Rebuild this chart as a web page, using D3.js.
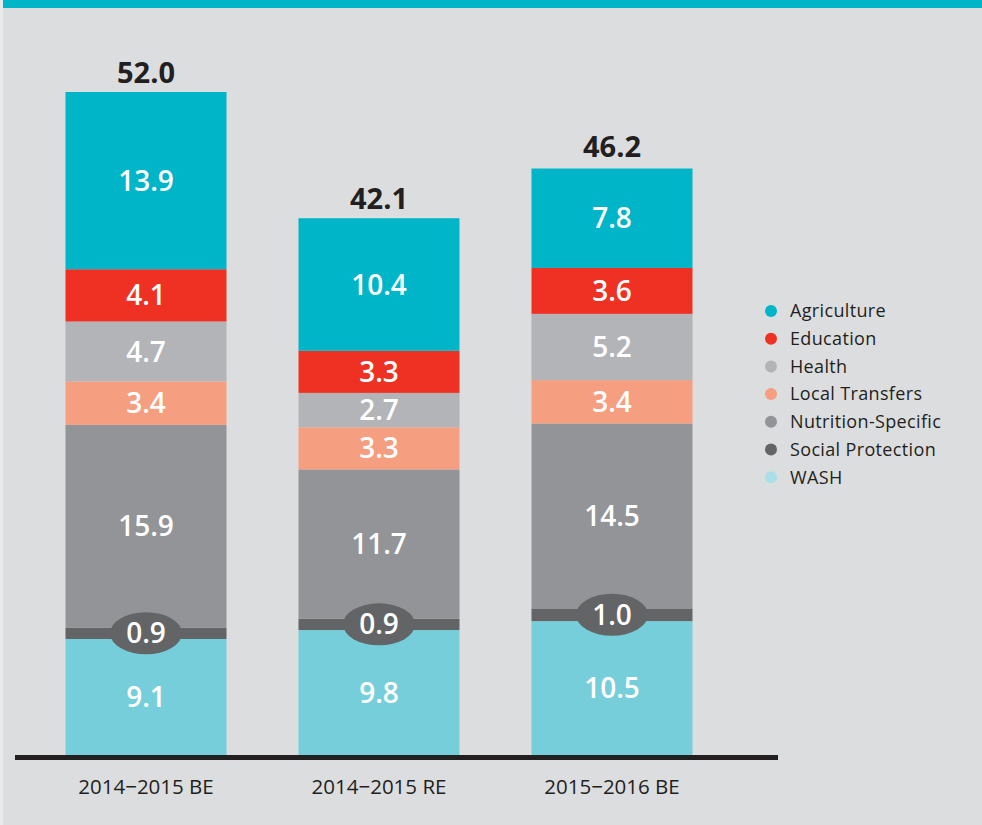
<!DOCTYPE html>
<html><head><meta charset="utf-8">
<script src="https://cdn.jsdelivr.net/npm/d3@7"></script>
<style>body{margin:0;background:#dcdddf;}svg{display:block;}</style>
</head><body>
<svg id="c" width="982" height="825"></svg>
<script>
const categories = ["2014\u22122015 BE", "2014\u22122015 RE", "2015\u22122016 BE"];
const seriesNames = ["WASH", "Social Protection", "Nutrition-Specific", "Local Transfers", "Health", "Education", "Agriculture"];
const wash = [9.1, 9.8, 10.5];
const socialProtection = [0.9, 0.9, 1.0];
const nutrition = [15.9, 11.7, 14.5];
const localTransfers = [3.4, 3.3, 3.4];
const health = [4.7, 2.7, 5.2];
const education = [4.1, 3.3, 3.6];
const agriculture = [13.9, 10.4, 7.8];
const totals = [52.0, 42.1, 46.2];
const colors = ["#76cedb", "#636466", "#939497", "#f59e80", "#b3b4b7", "#ef3124", "#00b5c8"];
const legendColors = {"WASH":"#a8dfe8"};
const legendOrder = ["Agriculture","Education","Health","Local Transfers","Nutrition-Specific","Social Protection","WASH"];

const values = [wash, socialProtection, nutrition, localTransfers, health, education, agriculture];
const rows = categories.map((c,i)=>{const o={cat:c}; seriesNames.forEach((s,j)=>o[s]=values[j][i]); return o;});
const stack = d3.stack().keys(seriesNames)(rows);

const svg = d3.select("#c");
const font = "'Open Sans', Lato, sans-serif";
svg.append("rect").attr("width",982).attr("height",825).attr("fill","#dcdddf");
svg.append("rect").attr("x",0).attr("y",0).attr("width",982).attr("height",8).attr("fill","#00b5c8");
svg.append("rect").attr("x",0).attr("y",0).attr("width",3).attr("height",825).attr("fill","#e9eaeb");

const x = d3.scaleBand().domain(categories).range([18.9, 739.1]).paddingInner(0.309).paddingOuter(0.2);
const y = d3.scaleLinear().domain([0, 52]).range([755, 92]);

const g = svg.append("g");
stack.forEach((layer, li) => {
  g.selectAll(null).data(layer).enter().append("rect")
    .attr("x", d => x(d.data.cat)).attr("width", x.bandwidth())
    .attr("y", d => y(d[1])).attr("height", d => y(d[0]) - y(d[1]))
    .attr("fill", colors[li]);
});
// segment labels
stack.forEach((layer, li) => {
  const name = seriesNames[li];
  layer.forEach(d => {
    const cx = x(d.data.cat) + x.bandwidth()/2;
    const cy = (y(d[0]) + y(d[1]))/2;
    const v = d[1]-d[0];
    if (name === "Social Protection") {
      g.append("ellipse").attr("cx",cx).attr("cy",cy).attr("rx",36).attr("ry",21).attr("fill",colors[li]);
    }
    g.append("text").attr("x",cx).attr("y",cy).attr("dy","0.36em")
      .attr("text-anchor","middle").attr("fill","#fff")
      .attr("font-family",font).attr("font-size",28).attr("font-weight",600)
      .text(v.toFixed(1));
  });
});
// totals
g.selectAll(null).data(categories).enter().append("text")
  .attr("x", c => x(c) + x.bandwidth()/2).attr("y", (c,i) => y(totals[i]) - 9)
  .attr("text-anchor","middle").attr("fill","#231f20")
  .attr("font-family",font).attr("font-size",29).attr("font-weight",700)
  .text((c,i)=>totals[i].toFixed(1));
// baseline
svg.append("rect").attr("x",15).attr("y",755).attr("width",763).attr("height",5).attr("fill","#231f20");
// axis labels
const xAxis = d3.axisBottom(x).tickSize(0).tickPadding(0);
const ax = svg.append("g").attr("transform","translate(0,787)").call(xAxis);
ax.select(".domain").remove();
ax.selectAll("text").attr("font-family",font).attr("font-size",20.5).attr("fill","#231f20").attr("dy","0.36em");
// legend
const leg = svg.append("g");
legendOrder.forEach((n,i)=>{
  const yy = 311 + i*27.7;
  const ci = seriesNames.indexOf(n);
  leg.append("circle").attr("cx",771).attr("cy",yy).attr("r",6).attr("fill",legendColors[n]||colors[ci]);
  leg.append("text").attr("x",790).attr("y",yy).attr("dy","0.35em").attr("font-family",font)
    .attr("font-size",18).attr("letter-spacing",0.35).attr("fill","#231f20").text(n);
});
</script>
</body></html>
